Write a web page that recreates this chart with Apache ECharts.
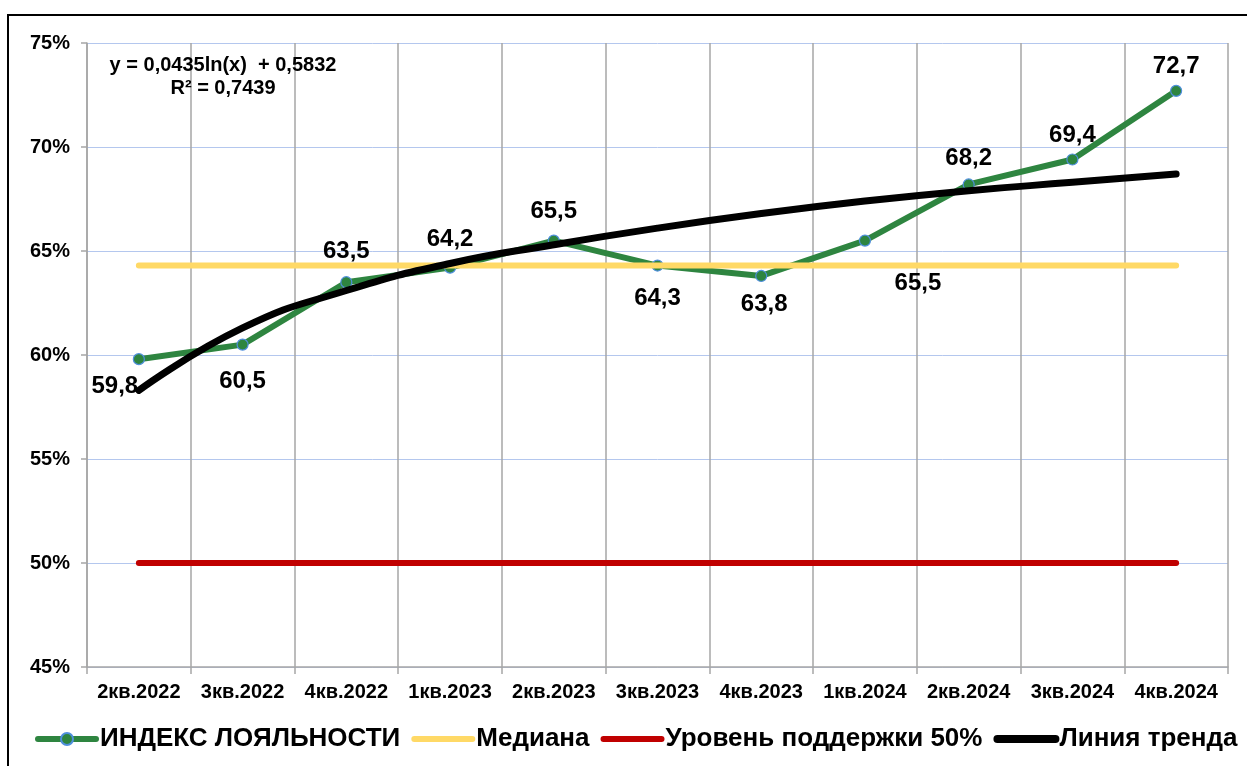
<!DOCTYPE html>
<html>
<head>
<meta charset="utf-8">
<style>html,body{margin:0;padding:0;background:#fff;}#chart{width:1247px;height:766px;}</style>
<script src="https://cdn.jsdelivr.net/npm/echarts@6/dist/echarts.min.js"></script>
</head>
<body>
<div id="chart"></div>
<script>
var categories = ['2кв.2022','3кв.2022','4кв.2022','1кв.2023','2кв.2023','3кв.2023','4кв.2023','1кв.2024','2кв.2024','3кв.2024','4кв.2024'];
var loyaltyIndex = [59.8, 60.5, 63.5, 64.2, 65.5, 64.3, 63.8, 65.5, 68.2, 69.4, 72.7];
var median = [64.3, 64.3, 64.3, 64.3, 64.3, 64.3, 64.3, 64.3, 64.3, 64.3, 64.3];
var supportLevel = [50, 50, 50, 50, 50, 50, 50, 50, 50, 50, 50];
var trend = [58.3, 61.3, 63.1, 64.4, 65.3, 66.1, 66.8, 67.4, 67.9, 68.3, 68.7];
var yTicks = [45, 50, 55, 60, 65, 70, 75];
var seriesNames = ['ИНДЕКС ЛОЯЛЬНОСТИ', 'Медиана', 'Уровень поддержки 50%', 'Линия тренда'];
var equationText = 'y = 0,0435ln(x)  + 0,5832\nR² = 0,7439';

var FONT = "Arial, 'Liberation Sans', sans-serif";

// label placement per point (style, not data)
var labelPlace = [
  {position:'bottom', offset:[-24, 4]},
  {position:'bottom', offset:[0, 14]},
  {position:'top', offset:[0, -8]},
  {position:'top', offset:[0, -5]},
  {position:'top', offset:[0, -6]},
  {position:'bottom', offset:[0, 10]},
  {position:'bottom', offset:[3, 5]},
  {position:'bottom', offset:[53, 20]},
  {position:'top', offset:[0, -3]},
  {position:'top', offset:[0, -1]},
  {position:'top', offset:[0, -1]}
];

var loyaltyData = loyaltyIndex.map(function (v, i) {
  return { value: v, label: labelPlace[i] };
});

var noDot = { color: 'rgba(0,0,0,0)', borderWidth: 0, opacity: 0 };

var chart = echarts.init(document.getElementById('chart'), null, {renderer: 'canvas'});
chart.setOption({
  animation: false,
  backgroundColor: '#ffffff',
  textStyle: { fontFamily: FONT },
  grid: { left: 87, right: 19, top: 43, bottom: 99, containLabel: false },
  graphic: [
    { type: 'rect', shape: { x: 8, y: 15, width: 1400, height: 900 },
      style: { fill: 'none', stroke: '#000', lineWidth: 2 }, z: 100, silent: true },
    { type: 'text', x: 223, y: 54,
      style: { text: equationText, font: 'bold 20px ' + FONT, fill: '#000',
               textAlign: 'center', textVerticalAlign: 'top', lineHeight: 23 }, z: 100 }
  ],
  legend: {
    left: 35, top: 726, width: 1240, padding: 0,
    itemWidth: 58, itemHeight: 15, itemGap: 11,
    lineStyle: { width: 6, cap: 'round' },
    textStyle: { fontSize: 26, fontWeight: 'bold', color: '#000', fontFamily: FONT, padding: [0, 0, 0, -1] },
    data: [
      { name: seriesNames[0] },
      { name: seriesNames[1], itemStyle: noDot },
      { name: seriesNames[2], itemStyle: noDot },
      { name: seriesNames[3], itemStyle: noDot, lineStyle: { width: 8, cap: 'round' } }
    ]
  },
  xAxis: {
    type: 'category',
    data: categories,
    boundaryGap: true,
    axisLine: { show: true, lineStyle: { color: '#a6a6a6', width: 1.5 } },
    axisTick: { show: true, length: 7, lineStyle: { color: '#a6a6a6', width: 1.5 } },
    axisLabel: { fontSize: 20, fontWeight: 'bold', color: '#000', margin: 15, interval: 0, fontFamily: FONT },
    splitLine: { show: true, lineStyle: { color: '#a6a6a6', width: 1.5 } }
  },
  yAxis: {
    type: 'value',
    min: yTicks[0], max: yTicks[yTicks.length - 1], interval: 5,
    axisLine: { show: true, lineStyle: { color: '#a6a6a6', width: 1.5 } },
    axisTick: { show: true, length: 6, lineStyle: { color: '#a6a6a6', width: 1.5 } },
    axisLabel: { fontSize: 20, fontWeight: 'bold', color: '#000', margin: 17, fontFamily: FONT,
                 formatter: function (v) { return v + '%'; } },
    splitLine: { show: true, lineStyle: { color: '#b4c7ee', width: 1 } }
  },
  series: [
    {
      name: seriesNames[0], type: 'line', data: loyaltyData,
      symbol: 'circle', symbolSize: 11,
      lineStyle: { color: '#2e8540', width: 6, cap: 'round', join: 'round' },
      itemStyle: { color: '#2e8540', borderColor: '#4f8fdc', borderWidth: 1.2 },
      label: { show: true, fontSize: 24, fontWeight: 'bold', color: '#000', distance: 5, fontFamily: FONT,
               formatter: function (p) { return String(p.value).replace('.', ','); } },
      z: 2
    },
    {
      name: seriesNames[1], type: 'line', data: median, symbol: 'none',
      lineStyle: { color: '#ffd966', width: 6, cap: 'round' },
      itemStyle: { color: '#ffd966' }, z: 3
    },
    {
      name: seriesNames[2], type: 'line', data: supportLevel, symbol: 'none',
      lineStyle: { color: '#c00000', width: 6, cap: 'round' },
      itemStyle: { color: '#c00000' }, z: 3
    },
    {
      name: seriesNames[3], type: 'line', data: trend, symbol: 'none', smooth: true,
      lineStyle: { color: '#000000', width: 7, cap: 'round' },
      itemStyle: { color: '#000000' }, z: 4
    }
  ]
});
</script>
</body>
</html>
